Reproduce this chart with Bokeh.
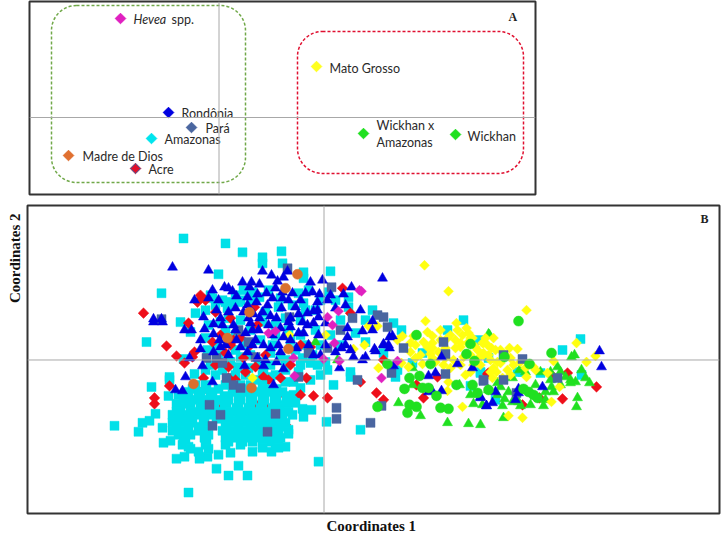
import math
from bokeh.plotting import figure
from bokeh.models import Range1d, Span, Title
from bokeh.core.properties import value
from bokeh.embed import file_html
from bokeh.resources import INLINE

# Panel A: group centroids
a_labels = ["Rondônia", "Pará", "Amazonas", "Madre de Dios", "Acre", "Mato Grosso", "Wickhan x", "Amazonas", "Wickhan"]
a_label_x = [181, 205, 164, 82, 148, 329, 376, 376, 467]
a_label_y = [113, 128, 139, 156, 169, 68, 125, 142, 136]
a_x = [120, 168, 191, 151, 68, 135, 316, 363, 455]
a_y = [18, 112, 127, 138, 155, 168, 66, 133, 134]
a_colors = ["#e020c0", "#0000e0", "#4a66a0", "#00e5ee", "#e07030", "#e0102c", "#ffff20", "#20e020", "#20e020"]
green_box = (51, 245, 5, 182)
red_box = (297, 523, 31, 173)

# Panel B: individuals, one list per group
cyan_upper = [(183,238),(225,243),(218,274),(161,293),(242,252),(262,257),(262,263),(281,251),(282,263),(303,272),(303,278),(330,271),
(243,290),(231,302),(238,302),(259,297),(298,293),(308,290),(328,292),(348,297),(348,307),(303,303),(278,307),(210,295),(212,298),
(225,302),(227,308),(205,310),(180,322),(146,342),(190,332),(183,359),(194,374),(169,377),(169,380),(151,387),(168,396),(178,395),
(207,350),(333,385),(350,377),(350,372),(285,382),(293,382),
(293,395),(300,388),(327,370),(317,365),(310,363),(302,358),(280,357),(270,353),(250,355),(240,357),(237,367),(263,373),(270,377),
(273,390),(263,390),(372,310),(393,323),(401,330),(447,330),(463,320),(478,340),(365,342),(383,353),(395,377),
(397,370),(422,353),(470,386),(480,373),(412,363),(580,339),(562,350),(540,373),(581,375),(517,372),(522,372),(488,358),
(480,372),(495,400),
(195,313),(222,300),(235,295),(250,300),(265,312),(285,318),(300,320),(315,310),(240,320),(225,330),(215,345),(235,350),(222,370),
(235,375),(248,368),(256,380),(215,375),(205,370),(245,345),(260,340),(275,325),(290,340),(305,345),(320,345),(330,335),
(340,320),(355,333),(365,320),(300,365),(285,370),(295,350),(270,365),(310,380),(320,375),
(215,305),(228,318),(240,300),(252,292),(268,290),(280,298),(292,305),(305,310),(320,300),(335,300),(208,325),(220,322),(235,335),
(250,330),(262,322),(275,335),(288,330),(300,335),(315,330),(340,345),(205,338),(218,355),(230,362),(245,375),(258,362),(272,345),
(285,360),(298,372),(312,355),(325,362),(210,365),(262,375),(275,375)]
cyan_core = [(155,414),(114,426),(138,432),(142,423),(149,421),(162,428),(163,443),(170,441),(176,459),(184,457),(188,493),(216,469),
(228,476),(247,476),(318,462),(326,422),(311,410),(302,409),(303,417),(295,403),(288,430),(288,434),(285,447),(271,452),(252,452),
(238,466),(230,453),(218,455),(207,457),(199,459),(198,452),(188,447),(182,445),(278,405),(250,400),(360,430),
(195,385),(205,385),(225,385),(240,385),(250,385),(262,385),
(188,392),(200,392),(212,392),(232,392),(245,392),(258,392),(270,392),(282,392),
(183,400),(195,400),(205,400),(218,400),(228,400),(240,400),(252,400),(264,400),(276,400),(288,400),
(180,408),(190,408),(200,408),(212,408),(224,408),(236,408),(248,408),(260,408),(272,408),(284,408),
(172,415),(185,415),(197,415),(210,415),(222,415),(235,415),(246,415),(258,415),(268,415),(280,415),(292,415),
(172,423),(182,423),(192,423),(203,423),(225,423),(235,423),(245,423),(255,423),(265,423),(275,423),(285,423),
(172,431),(184,431),(198,431),(206,431),(222,431),(232,431),(243,431),(253,431),(263,431),(278,431),
(183,438),(204,438),(225,438),(237,438),(248,438),(258,438),(270,438),(280,438),
(205,445),(225,445),(240,445),(262,445),(275,445),
(192,389),(206,389),(218,389),(236,389),(248,389),(264,389),(276,389),
(186,396),(198,396),(210,396),(224,396),(238,396),(250,396),(262,396),(274,396),(286,396),
(176,404),(188,404),(202,404),(214,404),(226,404),(238,404),(250,404),(262,404),(274,404),(286,404),
(176,412),(194,412),(206,412),(218,412),(230,412),(242,412),(254,412),(266,412),(278,412),(288,412),
(178,419),(190,419),(204,419),(216,419),(228,419),(240,419),(252,419),(262,419),(272,419),(282,419),
(176,427),(188,427),(200,427),(226,427),(238,427),(250,427),(260,427),(270,427),(280,427),
(178,435),(190,435),(208,435),(228,435),(240,435),(250,435),(260,435),(268,435),(276,435),
(185,442),(206,442),(228,442),(242,442),(252,442),(266,442),(278,442),(190,449),(208,449),(262,448),(278,448)]
red_dia = [(143,313),(197,302),(200,295),(215,312),(342,288),(254,307),(166,346),(176,356),(184,363),(194,352),(192,357),(169,386),
(154,398),(154,404),(203,378),(203,390),(188,323),(212,342),(225,353),(228,367),(228,378),(217,408),(238,414),(257,406),(266,408),
(285,425),(313,396),(327,398),(306,378),(278,395),(280,378),(263,377),(255,367),(233,340),(230,345),(243,358),(263,408),(258,407),
(257,325),(310,347),(350,313),(376,393),(383,400),(423,398),(416,385),(437,377),(488,373),(360,382),(383,360),(596,387),(562,399),
(522,405),(487,374),(551,375),(567,373),(539,398),(205,300),(230,318),(240,338),(265,355),(250,345),(245,372),(235,380),(290,365),
(300,345),(220,335),(268,380),(215,365),(300,395)]
green_tri = [(488,334),(398,403),(420,416),(447,423),(468,424),(480,425),(473,404),(459,385),(412,385),(412,368),(489,335),(519,370),
(557,367),(571,357),(574,355),(581,370),(589,383),(540,372),(550,380),(551,387),(553,392),(570,380),(575,382),(570,383),(577,398),
(576,407),(543,406),(545,400),(504,399),(502,406),(512,402),(520,406),(503,418),(497,383),(500,387),(565,377),(518,402),(482,405),(315,342),(337,360),
(560,385),(545,392),(550,372),(560,372),(585,378),(497,395),(508,392),(488,390),(530,405),(535,385),(525,372),(470,395),(512,378)]
yellow_dia = [(424,265),(448,291),(425,321),(456,323),(457,330),(466,328),(468,333),(427,332),(432,336),(402,336),(397,340),(410,343),
(413,336),(423,342),(432,343),(427,347),(447,338),(462,335),(472,338),(482,343),(487,345),(460,347),(467,343),(475,347),(368,326),
(377,326),(410,352),(432,348),(430,354),(455,348),(460,343),(453,360),(463,357),(477,350),(483,353),(473,365),(378,368),(401,363),
(408,367),(422,364),(443,365),(465,375),(447,391),(462,407),(448,382),(364,345),(526,310),(493,338),(483,343),(491,348),(509,348),
(517,349),(576,343),(595,356),(586,362),(553,361),(483,355),(488,355),(510,358),(497,362),(513,365),(493,368),(507,370),(492,378),
(526,377),(533,367),(535,370),(547,373),(559,387),(551,402),(508,416),(522,418),(496,372),(500,363),(252,378),(289,335),(325,335),(353,349),
(440,340),(445,348),(450,335),(438,352),(470,355),(478,358),(490,360),(445,358),(435,362),(450,368),(460,365),(470,372),(480,365),
(495,350),(505,355),(490,372),(502,378),(415,345),(420,355),(415,358),(440,330),(470,338),(485,338),(455,340),(432,358),(500,350),
(510,375),(520,362),(525,368)]
slate_sq = [(206,358),(216,358),(222,363),(226,378),(209,405),(220,415),(161,319),(212,426),(267,432),(275,414),(287,268),(331,287),
(289,317),(352,318),(238,330),(248,342),(255,357),(233,385),(240,388),(298,377),(336,408),(336,419),(308,353),(327,348),(340,330),
(357,380),(377,315),(383,317),(387,327),(403,348),(443,342),(445,354),(445,374),(391,373),(483,381),(370,423),(381,406),(503,355),
(522,359),(503,380),(483,380),(557,378),(516,393)]
blue_tri = [(172,267),(208,270),(224,287),(194,300),(208,298),(153,319),(161,319),(203,317),(220,318),(228,288),(262,271),(287,271),
(271,275),(277,281),(242,282),(251,282),(259,284),(232,291),(249,287),(310,282),(322,280),(283,277),(292,293),(266,293),(257,294),
(282,292),(305,293),(319,294),(327,300),(343,294),(351,287),(247,297),(272,298),(282,298),(288,300),(317,302),(247,305),(267,305),
(281,308),(295,307),(235,308),(243,312),(253,314),(270,316),(298,314),(307,313),(313,311),(317,310),(335,308),(318,317),(259,318),
(248,318),(153,322),(162,322),(184,330),(191,330),(204,329),(213,324),(213,334),(219,340),(200,340),(225,345),(200,349),(213,352),
(189,358),(202,366),(185,377),(212,382),(175,390),(182,391),(233,325),(245,333),(252,330),(258,330),(263,345),(270,348),(240,347),
(247,352),(280,352),(278,345),(272,335),(283,337),(290,327),(298,333),(303,333),(318,335),(313,323),(325,323),(347,328),(341,348),
(347,337),(335,352),(313,355),(353,357),(339,368),(257,358),(265,360),(276,362),(244,366),(263,366),(283,369),(273,385),(250,323),
(382,278),(372,321),(362,331),(372,330),(392,336),(389,337),(383,345),(388,345),(374,349),(375,351),(383,344),(389,348),(365,357),
(362,360),(441,357),(457,364),(472,368),(428,376),(435,373),(431,390),(441,391),(428,392),(480,397),(486,406),(393,366),(599,351),
(601,367),(542,387),(518,389),(495,392),(515,400),(492,403),(486,406),(480,398),(518,393),
(212,290),(218,300),(236,296),(256,302),(275,288),(300,300),(312,292),(330,295),(345,305),(360,310),(216,310),(228,312),(262,312),
(276,318),(288,322),(302,322),(222,325),(236,340),(255,340),(268,325),(290,340),(308,345),(325,345),(228,355),(220,347),(252,345),
(296,348),(320,355),(345,345),(290,318),(350,350),(235,330),(280,328),(307,325)]
magenta_dia = [(268,333),(275,331),(332,325),(334,343),(293,358),(323,359),(339,361),(294,376),(327,317),(338,311),(359,290),(361,291),(381,378),(397,361)]
orange_circ = [(297,274),(285,288),(249,312),(193,384),(227,338),(288,349),(251,388)]
green_circ = [(416,335),(470,344),(387,364),(430,364),(466,354),(474,361),(409,378),(419,376),(404,389),(422,388),(428,388),(436,396),
(456,385),(472,385),(477,393),(488,390),(409,405),(416,407),(407,413),(440,408),(448,409),(377,407),(518,321),(551,353),(504,357),
(529,364),(523,389),(528,392),(533,395),(537,398)]

FRAME = "#333333"
LINE = "#a8a8a8"
SERIF = "Liberation Serif"
SANS = "Lato"

def base(w, h, xr, yr, left, right, top, bottom, page_top):
    p = figure(width=w, height=h, x_range=Range1d(*xr), y_range=Range1d(*yr), x_axis_type=None, y_axis_type=None,
               toolbar_location=None, output_backend="svg", min_border_left=left, min_border_right=right,
               min_border_top=top, min_border_bottom=bottom,
               styles={"position": "absolute", "left": "0px", "top": f"{page_top}px"})
    p.grid.visible = False
    p.outline_line_color = FRAME
    p.outline_line_width = 2
    p.background_fill_color = "white"
    return p

# ---- Panel A
pa = base(721, 199, (29, 535), (194, 1), 29, 186, 1, 5, 0)
pa.add_layout(Span(location=218.5, dimension="height", line_color=LINE, line_width=1))
pa.add_layout(Span(location=117, dimension="width", line_color=LINE, line_width=1))
for box, col in ((green_box, "#70a848"), (red_box, "#e01030")):
    pa.quad(left=[box[0]], right=[box[1]], top=[box[2]], bottom=[box[3]], fill_alpha=0, line_color=col,
            line_width=1.5, line_dash="3 2", border_radius=25)
pa.scatter(a_x, a_y, marker="square", angle=math.pi / 4, size=7.5, fill_color=a_colors, line_color=a_colors)
pa.scatter([135], [168], marker="square", angle=math.pi / 4, size=7, fill_color=None, line_color="#4a66a0", line_width=1)
pa.text(a_label_x, a_label_y, text=a_labels, text_font=value(SANS), text_font_size="12.5px", text_color="#2a2a2a",
        text_baseline="middle", text_align="left")
pa.text([133], [19], text=["Hevea"], text_font=value(SANS), text_font_style="italic", text_font_size="12.5px",
        text_color="#2a2a2a", text_baseline="middle")
pa.text([171], [19], text=["spp."], text_font=value(SANS), text_font_size="12.5px", text_color="#2a2a2a",
        text_baseline="middle")
pa.text([508], [16], text=["A"], text_font=value(SERIF), text_font_style="bold", text_font_size="12px",
        text_color="#222222", text_baseline="middle")

# ---- Panel B
pb = base(721, 337, (27, 719), (514, 205), 27, 2, 6, 22, 199)
pb.add_layout(Span(location=323.5, dimension="height", line_color=LINE, line_width=1))
pb.add_layout(Span(location=360, dimension="width", line_color=LINE, line_width=1))

def draw(pts, marker, size, color, angle=0.0):
    pb.scatter([q[0] for q in pts], [q[1] for q in pts], marker=marker, size=size, angle=angle,
               fill_color=color, line_color=color, line_width=0.5)

draw(cyan_upper, "square", 9, "#00e0e8")
draw(red_dia, "square", 7.5, "#ee0f1a", math.pi / 4)
draw(cyan_core, "square", 9, "#00e0e8")
draw(green_tri, "triangle", 10, "#20e020")
draw(yellow_dia, "square", 7, "#ffff10", math.pi / 4)
draw(slate_sq, "square", 9, "#4a66a0")
draw(blue_tri, "triangle", 10, "#0000e0")
draw(magenta_dia, "square", 7, "#e020c0", math.pi / 4)
draw(orange_circ, "circle", 10, "#d9702e")
draw(green_circ, "circle", 10, "#20e020")

pb.text([700], [219], text=["B"], text_font=value(SERIF), text_font_style="bold", text_font_size="12px",
        text_color="#222222", text_baseline="middle")
pb.add_layout(Title(text="Coordinates 1", align="left", offset=299, standoff=5, text_font=SERIF, text_font_style="bold",
                    text_font_size="15px", text_color="#111111"), "below")
pb.add_layout(Title(text="Coordinates 2", align="right", offset=8, standoff=9, text_font=SERIF, text_font_style="bold",
                    text_font_size="15px", text_color="#111111"), "left")

open("out.html", "w").write(file_html([pa, pb], INLINE))
